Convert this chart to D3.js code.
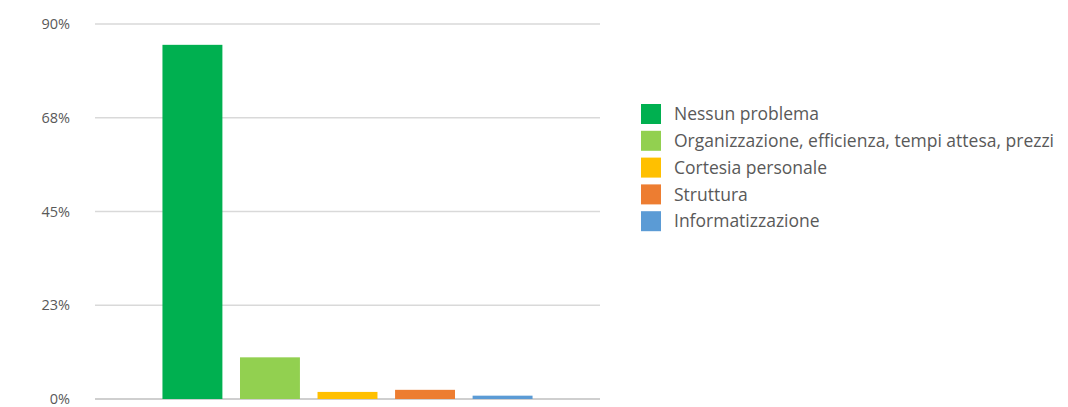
<!DOCTYPE html>
<html>
<head>
<meta charset="utf-8">
<script src="https://cdn.jsdelivr.net/npm/d3@7"></script>
<style>
  body { margin: 0; background: #fff; }
  text { font-family: "Open Sans", sans-serif; fill: #595959; }
</style>
</head>
<body>
<script>
let categories = ['Nessun problema', 'Organizzazione, efficienza, tempi attesa, prezzi', 'Cortesia personale', 'Struttura', 'Informatizzazione']
let values = [85, 10, 1.7, 2.2, 0.8]
let colors = ['#00b050', '#92d050', '#ffc000', '#ed7d31', '#5b9bd5']
let ticks = [0, 22.5, 45, 67.5, 90]
let tickLabels = ['0%', '23%', '45%', '68%', '90%']

let width = 1068
let height = 407
let svg = d3.select('body').append('svg')
    .attr('width', width)
    .attr('height', height)

let x = d3.scaleBand()
    .domain(categories)
    .range([95, 600])
    .paddingInner(0.227)
    .paddingOuter(0.87)
let y = d3.scaleLinear()
    .domain([0, 90])
    .range([399, 24])

// griglia
svg.append('g').selectAll('line').data(ticks)
    .enter()
    .append('line')
    .attr('x1', 95)
    .attr('x2', 600)
    .attr('y1', d => y(d))
    .attr('y2', d => y(d))
    .attr('stroke', (d, i) => i === 0 ? '#bfbfbf' : '#d9d9d9')
    .attr('stroke-width', 1.3)

let yAxis = d3.axisLeft(y)
    .tickValues(ticks)
    .tickFormat((d, i) => tickLabels[i])
    .tickSize(0)
    .tickPadding(0)
svg.append('g')
    .attr('transform', 'translate(70,0)')
    .call(yAxis)
    .call(g => g.select('.domain').remove())
    .selectAll('text')
    .attr('font-size', 14.5)
    .attr('font-family', '"Open Sans", sans-serif')
    .attr('fill', '#595959')

svg.append('g').selectAll('rect').data(values)
    .enter()
    .append('rect')
    .attr('x', (d, i) => x(categories[i]))
    .attr('y', d => y(d))
    .attr('width', x.bandwidth())
    .attr('height', d => y(0) - y(d))
    .attr('fill', (d, i) => colors[i])

// legenda
let legend = svg.append('g')
    .attr('transform', 'translate(641,114)')
let item = legend.selectAll('g').data(categories)
    .enter()
    .append('g')
    .attr('transform', (d, i) => `translate(0,${i * 26.8})`)
item.append('rect')
    .attr('x', 0)
    .attr('y', -10)
    .attr('width', 20)
    .attr('height', 20)
    .attr('fill', (d, i) => colors[i])
item.append('text')
    .attr('x', 33)
    .attr('dy', '0.35em')
    .attr('font-size', 17.5)
    .text(d => d)
</script>
</body>
</html>
